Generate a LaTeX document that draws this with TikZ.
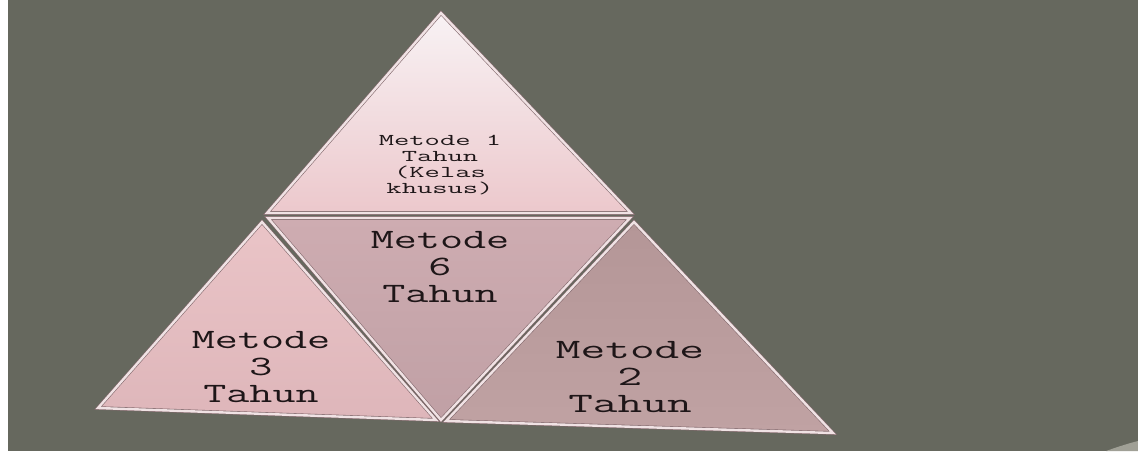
\documentclass[tikz,border=0pt]{standalone}
\usepackage{fontspec}
\usepackage{xcolor}
\usepackage{tikz}
\definecolor{slidegray}{RGB}{102,104,94}
\definecolor{cornergray}{RGB}{160,160,150}
\definecolor{rimdark}{RGB}{132,106,110}
\definecolor{rimlight}{RGB}{240,226,228}
\definecolor{topup}{RGB}{248,242,244}
\definecolor{toplow}{RGB}{236,200,204}
\definecolor{midup}{RGB}{206,172,177}
\definecolor{midlow}{RGB}{192,160,165}
\definecolor{leftup}{RGB}{234,196,199}
\definecolor{leftlow}{RGB}{222,182,186}
\definecolor{rightup}{RGB}{180,150,151}
\definecolor{rightlow}{RGB}{192,162,163}
\definecolor{lbltext}{RGB}{30,22,24}
\tikzset{
  tripiece/.style = {draw=rimdark, double=rimlight, double distance=2.4pt,
                     line width=0.6pt, line join=miter},
  smalllbl/.style = {font=\ttfamily\fontsize{16.5}{16}\selectfont, text=lbltext,
                     align=center, inner sep=0pt, xscale=1.8},
  biglbl/.style   = {font=\ttfamily\fontsize{28}{27}\selectfont, text=lbltext,
                     align=center, inner sep=0pt, xscale=1.6}
}

\begin{document}
\begin{tikzpicture}[x=1pt, y=-1pt]
  % Slide background
  \fill[white] (0,0) rectangle (1138,451);
  \fill[slidegray] (8,0) rectangle (1138,451);
  \fill[cornergray] (1106,451) .. controls (1120,446) and (1130,443) .. (1138,441)
    -- (1138,451) -- cycle;
  \useasboundingbox (0,0) rectangle (1138,451);
  % Corners
  \coordinate (t1) at (441,13);  \coordinate (t2) at (267,213); \coordinate (t3) at (631,213);
  \coordinate (m1) at (268,218); \coordinate (m2) at (630,218); \coordinate (m3) at (441,420);
  \coordinate (l1) at (262,222); \coordinate (l2) at (98,408);  \coordinate (l3) at (436,420);
  \coordinate (r1) at (634,222); \coordinate (r2) at (446,421); \coordinate (r3) at (833,433);
  % Pieces
  \shade[top color=topup,   bottom color=toplow]   (t1) -- (t2) -- (t3) -- cycle;
  \shade[top color=midup,   bottom color=midlow]   (m1) -- (m2) -- (m3) -- cycle;
  \shade[top color=leftup,  bottom color=leftlow]  (l1) -- (l2) -- (l3) -- cycle;
  \shade[top color=rightup, bottom color=rightlow] (r1) -- (r2) -- (r3) -- cycle;
  \draw[tripiece] (t1) -- (t2) -- (t3) -- cycle;
  \draw[tripiece] (m1) -- (m2) -- (m3) -- cycle;
  \draw[tripiece] (l1) -- (l2) -- (l3) -- cycle;
  \draw[tripiece] (r1) -- (r2) -- (r3) -- cycle;
  % Labels
  \node[smalllbl] (tahun1) at (440,165) {Metode 1\\Tahun\\(Kelas\\khusus)};
  \node[biglbl]   (tahun6) at (440,267) {Metode\\6\\Tahun};
  \node[biglbl]   (tahun3) at (261,367) {Metode\\3\\Tahun};
  \node[biglbl, xscale=1.07] (tahun2) at (630,377) {Metode\\2\\Tahun};
\end{tikzpicture}
\end{document}
